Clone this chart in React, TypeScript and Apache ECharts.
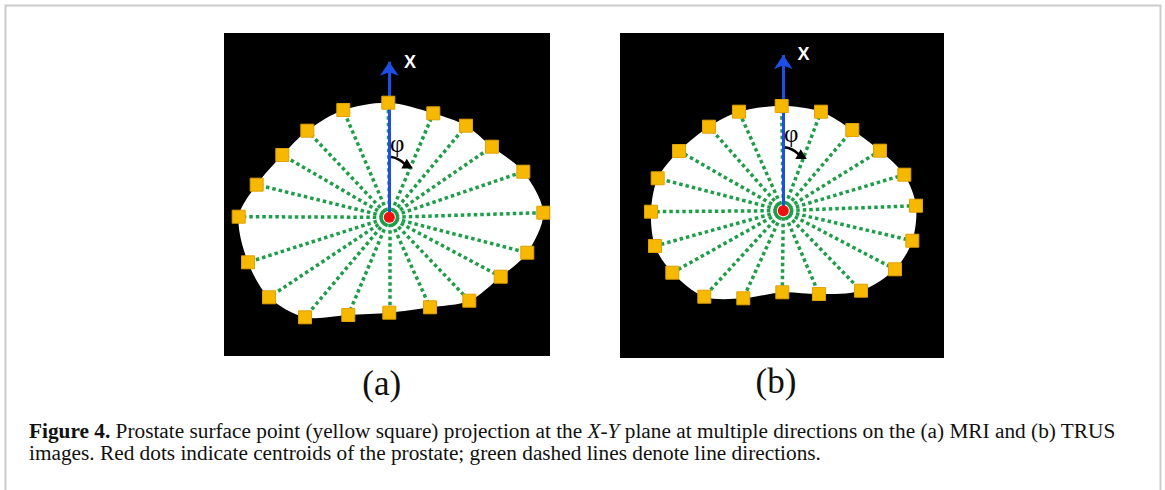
import React, { useEffect, useRef } from "react";
import * as echarts from "echarts";

// Panel (a): MRI, image-pixel coordinates inside the panel (y downward)
const aCentroid: [number, number] = [165.3, 184.3];
const aSurface: [number, number][] = [
  [164.3, 69.7], [209.3, 80.3], [242, 92.7], [268, 113.7], [299.3, 138.7],
  [319.3, 179.7], [303.3, 219.7], [276.7, 243.7], [245.3, 267.7], [206, 274.3],
  [165.3, 279.7], [124.3, 282], [81, 284.3], [45, 264.3], [24, 229.3],
  [14.7, 183.7], [32.7, 151.7], [58.3, 122], [83.3, 97.7], [119.3, 77],
];
const aAxisTip: [number, number] = [165.3, 28.7];

// Panel (b): TRUS
const bCentroid: [number, number] = [163.3, 177.7];
const bSurface: [number, number][] = [
  [161.7, 73], [201, 78.7], [232.3, 97], [260, 117.7], [284.3, 141.7],
  [296, 172.7], [292.3, 207.7], [275, 236.3], [241, 257.7], [199, 261],
  [162.3, 259.3], [123.3, 265.3], [84.3, 263.7], [52.3, 239.7], [35, 213],
  [31, 178.7], [37.7, 145.3], [59, 118], [89, 93.7], [119, 78.7],
];
const bAxisTip: [number, number] = [163.3, 22];

const panelLabels = ["(a)", "(b)"];
const captionLine1 =
  "{b|Figure 4.} Prostate surface point (yellow square) projection at the {i|X-Y} plane at multiple directions on the (a) MRI and (b) TRUS";
const captionLine2 =
  "images. Red dots indicate centroids of the prostate; green dashed lines denote line directions.";

const GREEN = "#1f9e4a";
const YELLOW = "#f6b800";
const BLUE = "#1d4fe6";
const RED = "#ee1111";
const CAP = 21.3;

function panelSeries(idx: number, centroid: [number, number], surface: [number, number][], tip: [number, number]) {
  return [
    {
      type: "custom",
      xAxisIndex: idx,
      yAxisIndex: idx,
      z: 1,
      silent: true,
      data: [[centroid[0], centroid[1]]],
      renderItem: (_p: any, api: any) => ({
        type: "polygon",
        shape: { points: surface.map((p) => api.coord(p)), smooth: 0.3 },
        style: { fill: "#ffffff" },
      }),
    },
    {
      type: "lines",
      coordinateSystem: "cartesian2d",
      xAxisIndex: idx,
      yAxisIndex: idx,
      z: 2,
      silent: true,
      lineStyle: { color: GREEN, width: 3.5, type: [3.5, 3], opacity: 1 },
      data: surface.map((p) => ({ coords: [centroid, p] })),
    },
    {
      type: "lines",
      coordinateSystem: "cartesian2d",
      xAxisIndex: idx,
      yAxisIndex: idx,
      z: 3,
      silent: true,
      symbol: ["none", "arrow"],
      symbolSize: 14,
      lineStyle: { color: BLUE, width: 3, type: "solid", opacity: 1 },
      data: [{ coords: [centroid, tip] }],
    },
    {
      type: "scatter",
      xAxisIndex: idx,
      yAxisIndex: idx,
      z: 4,
      silent: true,
      symbol: "rect",
      symbolSize: 13,
      itemStyle: { color: YELLOW, borderColor: "#e0a200", borderWidth: 1, opacity: 1 },
      data: surface,
    },
    {
      type: "scatter",
      xAxisIndex: idx,
      yAxisIndex: idx,
      z: 5,
      silent: true,
      symbol: "circle",
      symbolSize: 11,
      itemStyle: { color: RED, opacity: 1 },
      data: [centroid],
    },
  ];
}

function phiGraphics(ox: number, oy: number) {
  // ox, oy: centroid pixel
  const s = [ox + 1.7, oy - 60.3];
  const t = [ox + 23.5, oy - 48.8];
  const d = [0.876, 0.482];
  const n = [-0.482, 0.876];
  const b = [t[0] - 10 * d[0], t[1] - 10 * d[1]];
  return [
    {
      type: "bezierCurve",
      shape: { x1: s[0], y1: s[1], cpx1: s[0] + 7, cpy1: s[1] + 0.5, x2: b[0] + 1, y2: b[1] + 0.5 },
      style: { stroke: "#000", lineWidth: 2.6, fill: "none" },
      z: 20,
    },
    {
      type: "polygon",
      shape: {
        points: [
          [t[0], t[1]],
          [b[0] + 5.5 * n[0], b[1] + 5.5 * n[1]],
          [b[0] - 5.5 * n[0], b[1] - 5.5 * n[1]],
        ],
      },
      style: { fill: "#000" },
      z: 20,
    },
    {
      type: "text",
      x: ox + 8,
      y: oy - 74,
      style: { text: "φ", font: '25px "Liberation Serif"', fill: "#000", align: "center", verticalAlign: "middle" },
      z: 20,
    },
  ];
}

export default function App() {
  const ref = useRef<HTMLDivElement>(null);
  useEffect(() => {
    document.body.style.margin = "0";
    const chart = echarts.init(ref.current!, null, { renderer: "svg" });
    const gA = { left: 224, top: 33, width: 326, height: 323 };
    const gB = { left: 620, top: 33, width: 324, height: 325 };
    const axisX = (w: number) => ({ type: "value", min: 0, max: w, show: false });
    const axisY = (h: number) => ({ type: "value", min: 0, max: h, show: false, inverse: true });
    chart.setOption({
      animation: false,
      backgroundColor: "#ffffff",
      grid: [
        { ...gA, show: true, backgroundColor: "#000", borderWidth: 0 },
        { ...gB, show: true, backgroundColor: "#000", borderWidth: 0 },
      ],
      xAxis: [
        { ...axisX(gA.width), gridIndex: 0 },
        { ...axisX(gB.width), gridIndex: 1 },
      ],
      yAxis: [
        { ...axisY(gA.height), gridIndex: 0 },
        { ...axisY(gB.height), gridIndex: 1 },
      ],
      series: [
        ...panelSeries(0, aCentroid, aSurface, aAxisTip),
        ...panelSeries(1, bCentroid, bSurface, bAxisTip),
      ],
      graphic: [
        {
          type: "rect",
          shape: { x: 5.5, y: 5.5, width: 1155, height: 600 },
          style: { fill: "none", stroke: "#cccccc", lineWidth: 2 },
          z: 0,
        },
        {
          type: "text",
          x: 410,
          y: 62,
          style: { text: "X", font: 'bold 18px "Liberation Sans"', fill: "#fff", align: "center", verticalAlign: "middle" },
          z: 20,
        },
        {
          type: "text",
          x: 803.5,
          y: 54,
          style: { text: "X", font: 'bold 18px "Liberation Sans"', fill: "#fff", align: "center", verticalAlign: "middle" },
          z: 20,
        },
        ...phiGraphics(224 + aCentroid[0], 33 + aCentroid[1]),
        ...phiGraphics(620 + bCentroid[0], 33 + bCentroid[1] - 3),
        {
          type: "text",
          x: 381.7,
          y: 383,
          style: { text: panelLabels[0], font: '35px "Liberation Serif"', fill: "#111", align: "center", verticalAlign: "middle" },
        },
        {
          type: "text",
          x: 776,
          y: 381,
          style: { text: panelLabels[1], font: '35px "Liberation Serif"', fill: "#111", align: "center", verticalAlign: "middle" },
        },
        {
          type: "text",
          x: 29,
          y: 431,
          style: {
            text: captionLine1,
            font: `${CAP}px "Liberation Serif"`,
            fill: "#111",
            verticalAlign: "middle",
            rich: {
              b: { fontWeight: "bold", fontSize: CAP, fontFamily: "Liberation Serif", fill: "#111" },
              i: { fontStyle: "italic", fontSize: CAP, fontFamily: "Liberation Serif", fill: "#111" },
            },
          },
        },
        {
          type: "text",
          x: 29,
          y: 453,
          style: { text: captionLine2, font: `${CAP}px "Liberation Serif"`, fill: "#111", verticalAlign: "middle" },
        },
      ],
    });
    return () => chart.dispose();
  }, []);
  return <div ref={ref} style={{ width: 1165, height: 490 }} />;
}
